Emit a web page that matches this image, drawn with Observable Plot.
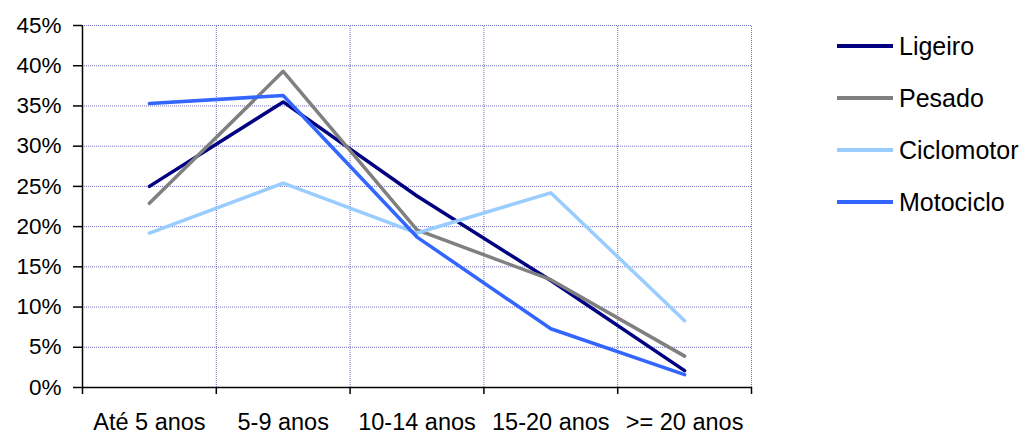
<!DOCTYPE html>
<html>
<head>
<meta charset="utf-8">
<script src="https://cdn.jsdelivr.net/npm/d3@7"></script>
<script src="https://cdn.jsdelivr.net/npm/@observablehq/plot@0.6"></script>
<style>
  html, body { margin: 0; padding: 0; background: #fff; }
  #wrap { position: relative; width: 1027px; height: 436px; font-family: "Liberation Sans", Arial, sans-serif; }
  #legend { position: absolute; left: 837px; top: 20px; }
  .row { display: flex; align-items: center; height: 52px; margin-top: 0; }
  .sw { width: 56px; height: 4px; margin-right: 6px; }
  .lbl { font-size: 25px; color: #000; line-height: 28px; }
</style>
</head>
<body>
<div id="wrap"></div>
<script>
const categories = ["Até 5 anos", "5-9 anos", "10-14 anos", "15-20 anos", ">= 20 anos"];
const seriesNames = ["Ligeiro", "Pesado", "Ciclomotor", "Motociclo"];
const seriesColors = ["#000080", "#808080", "#99CCFF", "#3366FF"];
const ligeiro    = [0.250, 0.355, 0.238, 0.133, 0.021];
const pesado     = [0.229, 0.393, 0.196, 0.134, 0.039];
const ciclomotor = [0.192, 0.254, 0.192, 0.242, 0.083];
const motociclo  = [0.353, 0.363, 0.187, 0.073, 0.016];
const yTicks = [0, 0.05, 0.10, 0.15, 0.20, 0.25, 0.30, 0.35, 0.40, 0.45];

const seriesValues = [ligeiro, pesado, ciclomotor, motociclo];
const rows = [];
seriesNames.forEach((s, si) => {
  seriesValues[si].forEach((v, i) => rows.push({series: s, idx: i, value: v}));
});
const boundaries = d3.range(categories.length + 1).map(i => i - 0.5);
const innerBoundaries = boundaries.slice(1);
const gridColor = "#4040a8";

const chart = Plot.plot({
  width: 1027,
  height: 436,
  marginLeft: 82,
  marginRight: 276,
  marginTop: 25,
  marginBottom: 49,
  style: {fontFamily: "Liberation Sans, Arial, sans-serif", fontSize: "22px", color: "#000", background: "#fff", overflow: "visible"},
  x: {type: "linear", domain: [-0.5, categories.length - 0.5], label: null},
  y: {domain: [0, 0.45], label: null},
  color: {domain: seriesNames, range: seriesColors},
  marks: [
    Plot.ruleY(yTicks.slice(1), {stroke: gridColor, strokeWidth: 1, strokeDasharray: "1,1", strokeOpacity: 0.75}),
    Plot.ruleX(innerBoundaries, {y1: 0, y2: 0.45, stroke: gridColor, strokeWidth: 1, strokeDasharray: "1,1", strokeOpacity: 0.75}),
    Plot.axisY({ticks: yTicks, tickFormat: d3.format(".0%"), tickSize: 9, tickPadding: 12, fontSize: 22.5, stroke: "#000", strokeWidth: 1.5, label: null}),
    Plot.axisX({ticks: d3.range(categories.length), tickFormat: i => categories[i], tickSize: 0, tickPadding: 26, fontSize: 23.5, label: null}),
    Plot.axisX({ticks: boundaries, tickFormat: () => "", tickSize: 7, stroke: "#000", strokeWidth: 1.5, label: null}),
    Plot.ruleY([0], {stroke: "#000", strokeWidth: 1.5}),
    Plot.ruleX([-0.5], {y1: 0, y2: 0.45, stroke: "#000", strokeWidth: 1.5}),
    Plot.line(rows, {x: "idx", y: "value", z: "series", stroke: "series", strokeWidth: 3.5})
  ]
});

const wrap = document.getElementById("wrap");
wrap.appendChild(chart);

const legend = document.createElement("div");
legend.id = "legend";
seriesNames.forEach((s, i) => {
  const r = document.createElement("div");
  r.className = "row";
  const sw = document.createElement("div");
  sw.className = "sw";
  sw.style.background = seriesColors[i];
  const l = document.createElement("span");
  l.className = "lbl";
  l.textContent = s;
  r.appendChild(sw);
  r.appendChild(l);
  legend.appendChild(r);
});
wrap.appendChild(legend);
</script>
</body>
</html>
